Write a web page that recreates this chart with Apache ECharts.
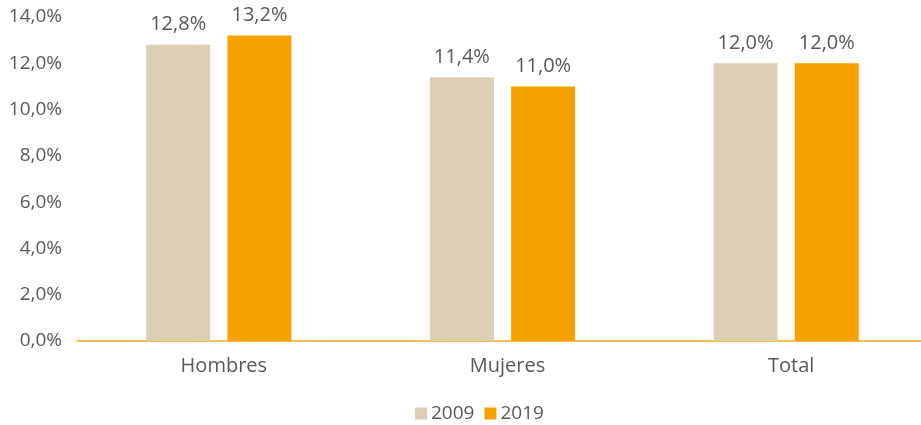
<!DOCTYPE html>
<html>
<head>
<meta charset="utf-8">
<script src="https://cdn.jsdelivr.net/npm/echarts@6/dist/echarts.min.js"></script>
<style>
  html, body { margin: 0; padding: 0; background: #fff; }
  #chart { width: 921px; height: 425px; }
</style>
</head>
<body>
<div id="chart"></div>
<script>
  const categories = ['Hombres', 'Mujeres', 'Total']
  const values2009 = [12.8, 11.4, 12.0]
  const values2019 = [13.2, 11.0, 12.0]
  const yTicks = { min: 0, max: 14, interval: 2 }

  const fmt = v => v.toFixed(1).replace('.', ',') + '%'
  const textColor = '#595959'
  const font = '"Open Sans", sans-serif'

  const chart = echarts.init(document.getElementById('chart'))
  chart.setOption({
    animation: false,
    textStyle: { fontFamily: font },
    color: ['#DDCFB3', '#F5A100'],
    grid: { left: 77, right: -7, top: 17, bottom: 84, outerBoundsMode: 'none', containLabel: false },
    legend: {
      top: 399,
      left: 410,
      itemWidth: 12,
      itemHeight: 12,
      itemGap: 10,
      icon: 'rect',
      textStyle: { color: textColor, fontSize: 19, fontFamily: font, padding: [0, 0, 0, -1] },
      data: ['2009', '2019']
    },
    xAxis: {
      type: 'category',
      data: categories,
      axisLine: { lineStyle: { color: '#F5A623', width: 1.5 } },
      axisTick: { show: false },
      axisLabel: { color: textColor, fontSize: 20, margin: 15, fontFamily: font, padding: [0, 0, 0, 10] }
    },
    yAxis: {
      type: 'value',
      min: yTicks.min,
      max: yTicks.max,
      interval: yTicks.interval,
      splitLine: { show: false },
      axisLine: { show: false },
      axisLabel: { color: textColor, fontSize: 19, margin: 15, fontFamily: font, formatter: fmt }
    },
    series: [
      {
        name: '2009',
        type: 'bar',
        data: values2009,
        barWidth: 64,
        barGap: '27%',
        label: { show: true, position: 'top', distance: 10, color: textColor, fontSize: 20, fontFamily: font, formatter: p => fmt(p.value) }
      },
      {
        name: '2019',
        type: 'bar',
        data: values2019,
        barWidth: 64,
        label: { show: true, position: 'top', distance: 10, color: textColor, fontSize: 20, fontFamily: font, formatter: p => fmt(p.value) }
      }
    ]
  })
</script>
</body>
</html>
